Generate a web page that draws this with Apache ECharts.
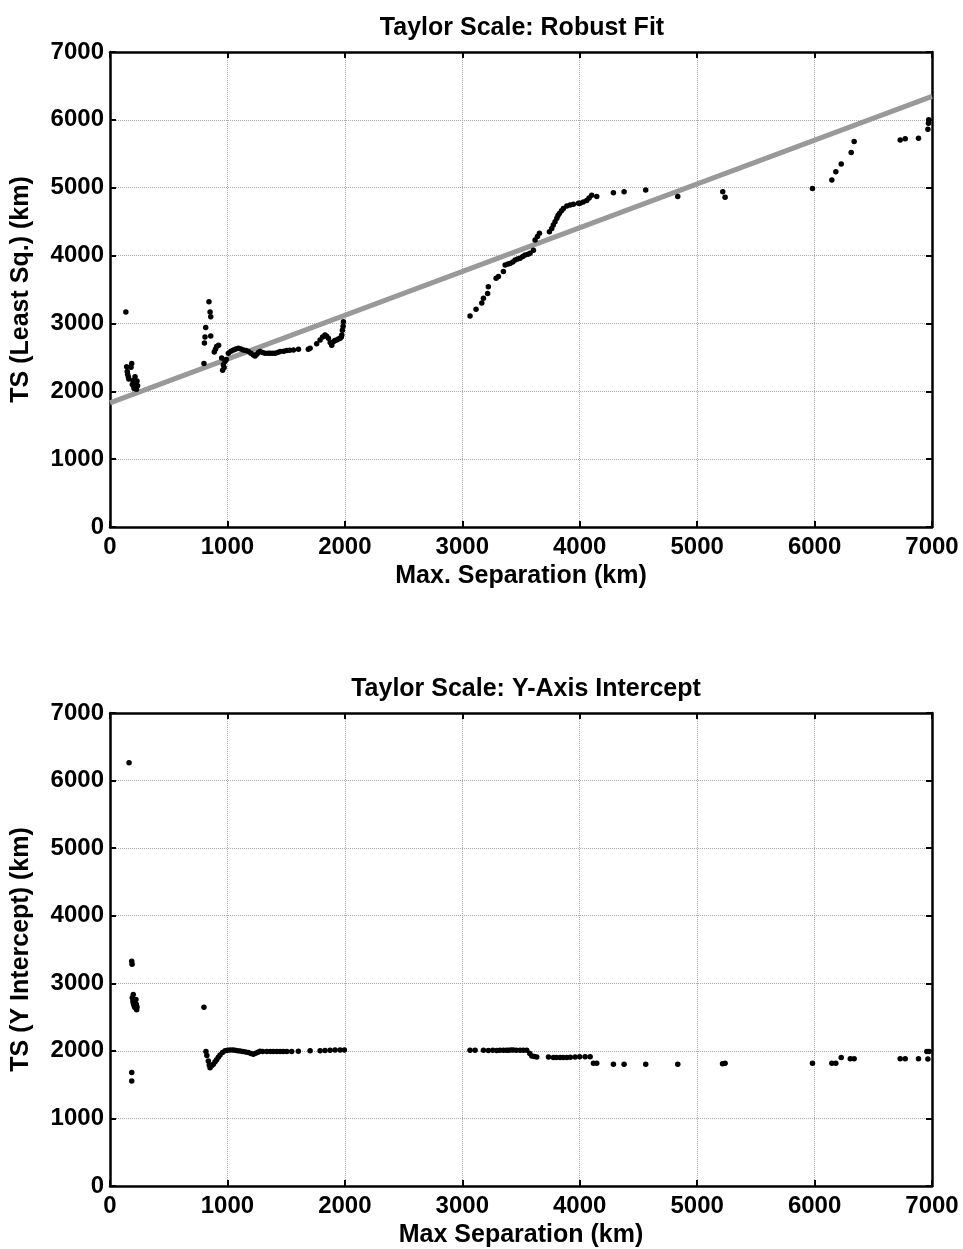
<!DOCTYPE html>
<html>
<head>
<meta charset="utf-8">
<script src="https://cdn.jsdelivr.net/npm/echarts@6/dist/echarts.min.js"></script>
<style>
    html, body { margin: 0; padding: 0; background: #fff; }
    #chart { width: 963px; height: 1249px; }
</style>
</head>
<body>
<div id="chart"></div>
<script>
// x ticks shared by both panels
const xTicks = [0, 1000, 2000, 3000, 4000, 5000, 6000, 7000]

// top panel: least squares TS vs max separation
const robustPts = [
    [135,3170],
    [142,2360],[147,2290],[150,2250],[156,2215],[160,2180],[179,2355],[185,2410],[190,2100],[196,2160],
    [200,2080],[205,2040],[210,2120],[213,2215],[218,2060],[222,2100],[225,2030],[230,2150],[235,2080],
    [800,2410],[804,2710],[809,2800],[815,2940],[843,3320],[852,3170],[858,3100],[858,2815],[888,2580],
    [898,2620],[908,2660],[925,2680],
    [951,2490],[959,2310],[965,2390],[972,2350],[979,2440],[990,2470],[1008,2560],[1030,2590],[1051,2610],
    [1072,2625],[1093,2635],[1115,2625],[1136,2610],[1158,2600],[1179,2585],[1200,2560],[1221,2535],
    [1235,2520],[1250,2545],[1264,2570],[1278,2585],[1300,2570],[1320,2560],[1345,2560],[1363,2560],
    [1385,2560],[1406,2560],[1428,2570],[1449,2585],[1480,2590],[1505,2600],[1530,2605],[1562,2610],
    [1605,2620],[1689,2620],[1704,2635],[1760,2700],[1789,2755],[1810,2800],[1831,2830],[1845,2810],
    [1860,2780],[1875,2720],[1888,2680],[1902,2730],[1915,2750],[1931,2755],[1945,2770],[1959,2780],
    [1970,2800],[1974,2830],[1979,2900],[1985,2960],[1988,3025],
    [3066,3110],[3117,3210],[3166,3300],[3180,3370],[3216,3440],[3222,3540],[3288,3665],[3308,3690],
    [3350,3765],[3365,3860],[3390,3875],[3407,3885],[3430,3905],[3450,3935],[3470,3950],[3492,3960],
    [3515,3985],[3535,4010],[3560,4020],[3577,4035],[3606,4080],[3620,4230],[3640,4280],[3657,4330],
    [3742,4350],[3762,4400],[3775,4450],[3790,4500],[3805,4550],[3815,4590],[3827,4620],[3845,4660],
    [3861,4695],[3890,4730],[3918,4745],[3946,4755],[3989,4770],[4003,4770],[4030,4790],[4060,4810],
    [4080,4850],[4102,4890],[4145,4870],[4287,4925],[4378,4940],[4562,4965],[4835,4870],[5218,4940],
    [5238,4860],[5982,4990],[6147,5115],[6181,5235],[6227,5350],[6312,5520],[6337,5680],[6729,5705],
    [6772,5720],[6885,5730],[6965,5860],[6970,5950],[6972,6000]
]

// robust fit line end points
const fitLine = [[0, 1830], [7000, 6345]]

// bottom panel: y intercept TS vs max separation
const interceptPts = [
    [162,6265],[185,3325],[188,3280],[185,1680],[185,1555],[190,2785],[195,2740],[198,2835],[198,2710],
    [203,2690],[207,2660],[212,2640],[221,2760],[224,2690],[227,2610],[230,2650],
    [800,2645],[817,1990],[825,1930],[837,1850],[845,1790],[852,1750],[865,1780],[880,1800],[895,1840],
    [908,1870],[922,1905],[937,1940],[958,1975],[980,2000],[1000,2010],[1022,2012],[1045,2012],
    [1065,2008],[1085,2003],[1107,1998],[1130,1990],[1155,1982],[1178,1975],[1200,1962],[1221,1950],
    [1240,1965],[1260,1980],[1278,1995],[1300,1990],[1335,1990],[1365,1990],[1391,1990],[1420,1990],
    [1448,1990],[1475,1990],[1505,1990],[1547,1990],[1604,1995],[1704,2000],[1789,2000],[1831,2005],
    [1874,2010],[1916,2012],[1959,2012],[1996,2012],
    [3066,2010],[3109,2010],[3180,2010],[3222,2007],[3260,2008],[3293,2007],[3320,2008],[3350,2010],
    [3375,2010],[3393,2010],[3415,2012],[3435,2012],[3460,2010],[3492,2010],[3520,2008],[3549,2008],
    [3575,1960],[3592,1925],[3612,1915],[3634,1910],[3734,1910],[3776,1900],[3800,1900],[3833,1900],
    [3860,1900],[3890,1900],[3920,1905],[3961,1910],[4000,1912],[4046,1914],[4089,1914],[4117,1815],
    [4145,1815],[4287,1800],[4378,1800],[4562,1800],[4835,1800],[5216,1810],[5238,1815],[5982,1815],
    [6147,1815],[6181,1815],[6227,1900],[6304,1885],[6337,1885],[6729,1885],[6772,1885],[6885,1885],
    [6965,1880],[6956,1990],[6975,1990]
]

const font = "Liberation Sans, Arial, sans-serif"
const black = "#000"
const tickFont = 24
const nameFont = 25

// plain numbers, no thousands separator
const plain = v => String(v)

function mainX(gridIndex, name) {
    return {
        type: "value", gridIndex, min: 0, max: 7000, interval: 1000,
        name, nameLocation: "middle", nameGap: 37,
        nameTextStyle: { fontFamily: font, fontWeight: "bold", fontSize: nameFont, color: black },
        axisLine: { onZero: false, lineStyle: { color: black, width: 2.5 } },
        axisTick: { inside: true, length: 6, lineStyle: { color: black, width: 2 } },
        axisLabel: { fontFamily: font, fontWeight: "bold", fontSize: tickFont, color: black, margin: 8,
            formatter: v => xTicks.includes(v) ? plain(v) : "" },
        splitLine: { show: true, lineStyle: { color: "#aaa", type: [1, 1], width: 1 } },
    }
}
function mainY(gridIndex, name) {
    return {
        type: "value", gridIndex, min: 0, max: 7000, interval: 1000,
        name, nameLocation: "middle", nameGap: 76,
        nameTextStyle: { fontFamily: font, fontWeight: "bold", fontSize: nameFont, color: black },
        axisLine: { onZero: false, lineStyle: { color: black, width: 2.5 } },
        axisTick: { inside: true, length: 6, lineStyle: { color: black, width: 2 } },
        axisLabel: { fontFamily: font, fontWeight: "bold", fontSize: tickFont, color: black, margin: 6,
            formatter: plain },
        splitLine: { show: true, lineStyle: { color: "#aaa", type: [1, 1], width: 1 } },
    }
}
// frame axes (top/right) with inside ticks only
function frameAxis(gridIndex, position) {
    return {
        type: "value", gridIndex, position, min: 0, max: 7000, interval: 1000,
        axisLine: { show: true, onZero: false, lineStyle: { color: black, width: 2.5 } },
        axisTick: { show: true, inside: true, length: 6, lineStyle: { color: black, width: 2 } },
        axisLabel: { show: false },
        splitLine: { show: false },
    }
}

const titleStyle = { fontFamily: font, fontWeight: "bold", fontSize: 25, color: black }

const option = {
    backgroundColor: "#fff",
    animation: false,
    title: [
        { text: "Taylor Scale: Robust Fit", left: 517, top: 11, textAlign: "center", textStyle: titleStyle },
        { text: "Taylor Scale: Y-Axis Intercept", left: 521, top: 672, textAlign: "center", textStyle: titleStyle },
    ],
    grid: [
        { left: 110, right: 31, top: 52, height: 475 },
        { left: 110, right: 31, top: 713, height: 474 },
    ],
    xAxis: [
        mainX(0, "Max. Separation (km)"),
        mainX(1, "Max Separation (km)"),
        frameAxis(0, "top"),
        frameAxis(1, "top"),
    ],
    yAxis: [
        mainY(0, "TS (Least Sq.) (km)"),
        mainY(1, "TS (Y Intercept) (km)"),
        frameAxis(0, "right"),
        frameAxis(1, "right"),
    ],
    series: [
        {
            type: "line", xAxisIndex: 0, yAxisIndex: 0, data: fitLine,
            symbol: "none", lineStyle: { color: "#999", width: 5 }, z: 2,
        },
        {
            type: "scatter", xAxisIndex: 0, yAxisIndex: 0, data: robustPts,
            symbolSize: 5.5, itemStyle: { color: black, opacity: 1 }, z: 3,
        },
        {
            type: "scatter", xAxisIndex: 1, yAxisIndex: 1, data: interceptPts,
            symbolSize: 5.5, itemStyle: { color: black, opacity: 1 }, z: 3,
        },
    ],
}

const chart = echarts.init(document.getElementById("chart"))
chart.setOption(option)
</script>
</body>
</html>
